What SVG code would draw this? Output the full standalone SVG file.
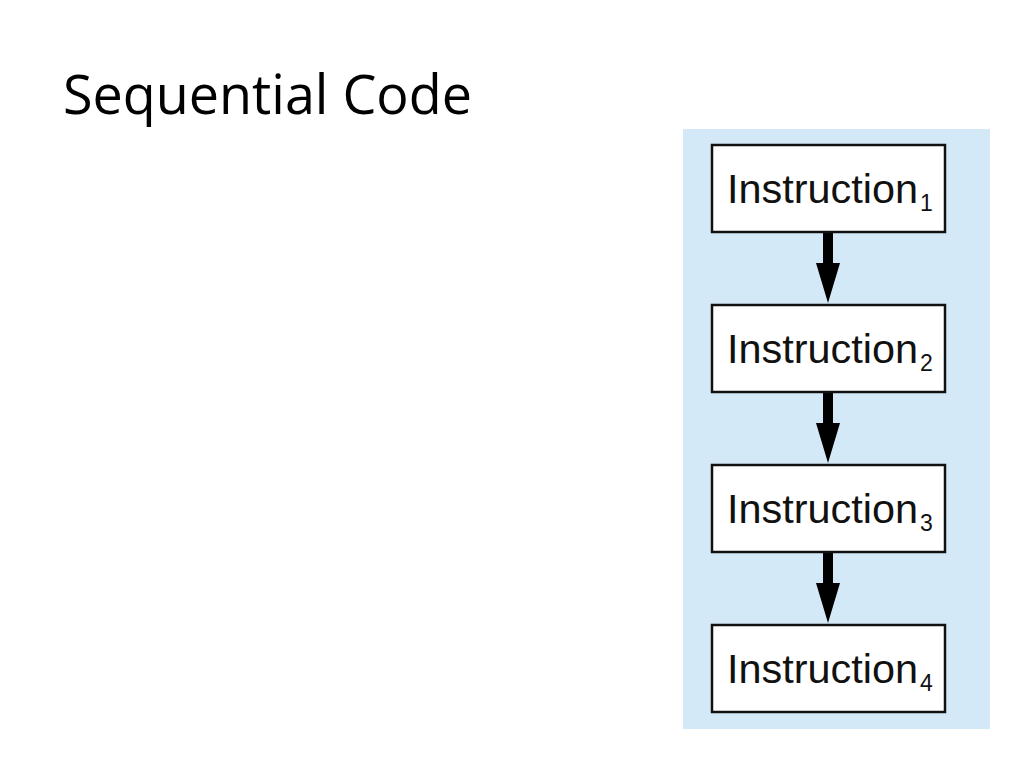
<svg xmlns="http://www.w3.org/2000/svg" width="1024" height="768" viewBox="0 0 1024 768">
<defs>
<style>
.box{fill:#ffffff;stroke:#111111;stroke-width:2.5}
.lbl{font-family:"Liberation Sans",Arial,sans-serif;font-size:40px;fill:#111111}
.sub{font-size:23px}
.title{font-family:"Open Sans","Noto Sans",sans-serif;font-size:55px;fill:#000000}
.arrow{fill:#000000}
</style>
</defs>
<rect width="1024" height="768" fill="#ffffff"/>
<text class="title" x="63" y="114" textLength="409" lengthAdjust="spacingAndGlyphs">Sequential Code</text>
<rect x="683" y="129" width="307" height="600" fill="#d4e9f7"/>
<g id="connectors">
<path class="arrow" d="M823,232 H833 V263 H840 L828,303 L816,263 H823 Z"/>
<path class="arrow" d="M823,392 H833 V423 H840 L828,463 L816,423 H823 Z"/>
<path class="arrow" d="M823,552 H833 V583 H840 L828,623 L816,583 H823 Z"/>
</g>
<g id="instr1">
<rect class="box" x="712" y="145" width="233" height="87"/>
<text class="lbl" x="727" y="203"><tspan textLength="191" lengthAdjust="spacingAndGlyphs">Instruction</tspan><tspan class="sub" dx="2" dy="8">1</tspan></text>
</g>
<g id="instr2">
<rect class="box" x="712" y="305" width="233" height="87"/>
<text class="lbl" x="727" y="363"><tspan textLength="191" lengthAdjust="spacingAndGlyphs">Instruction</tspan><tspan class="sub" dx="2" dy="8">2</tspan></text>
</g>
<g id="instr3">
<rect class="box" x="712" y="465" width="233" height="87"/>
<text class="lbl" x="727" y="523"><tspan textLength="191" lengthAdjust="spacingAndGlyphs">Instruction</tspan><tspan class="sub" dx="2" dy="8">3</tspan></text>
</g>
<g id="instr4">
<rect class="box" x="712" y="625" width="233" height="87"/>
<text class="lbl" x="727" y="683"><tspan textLength="191" lengthAdjust="spacingAndGlyphs">Instruction</tspan><tspan class="sub" dx="2" dy="8">4</tspan></text>
</g>
</svg>
